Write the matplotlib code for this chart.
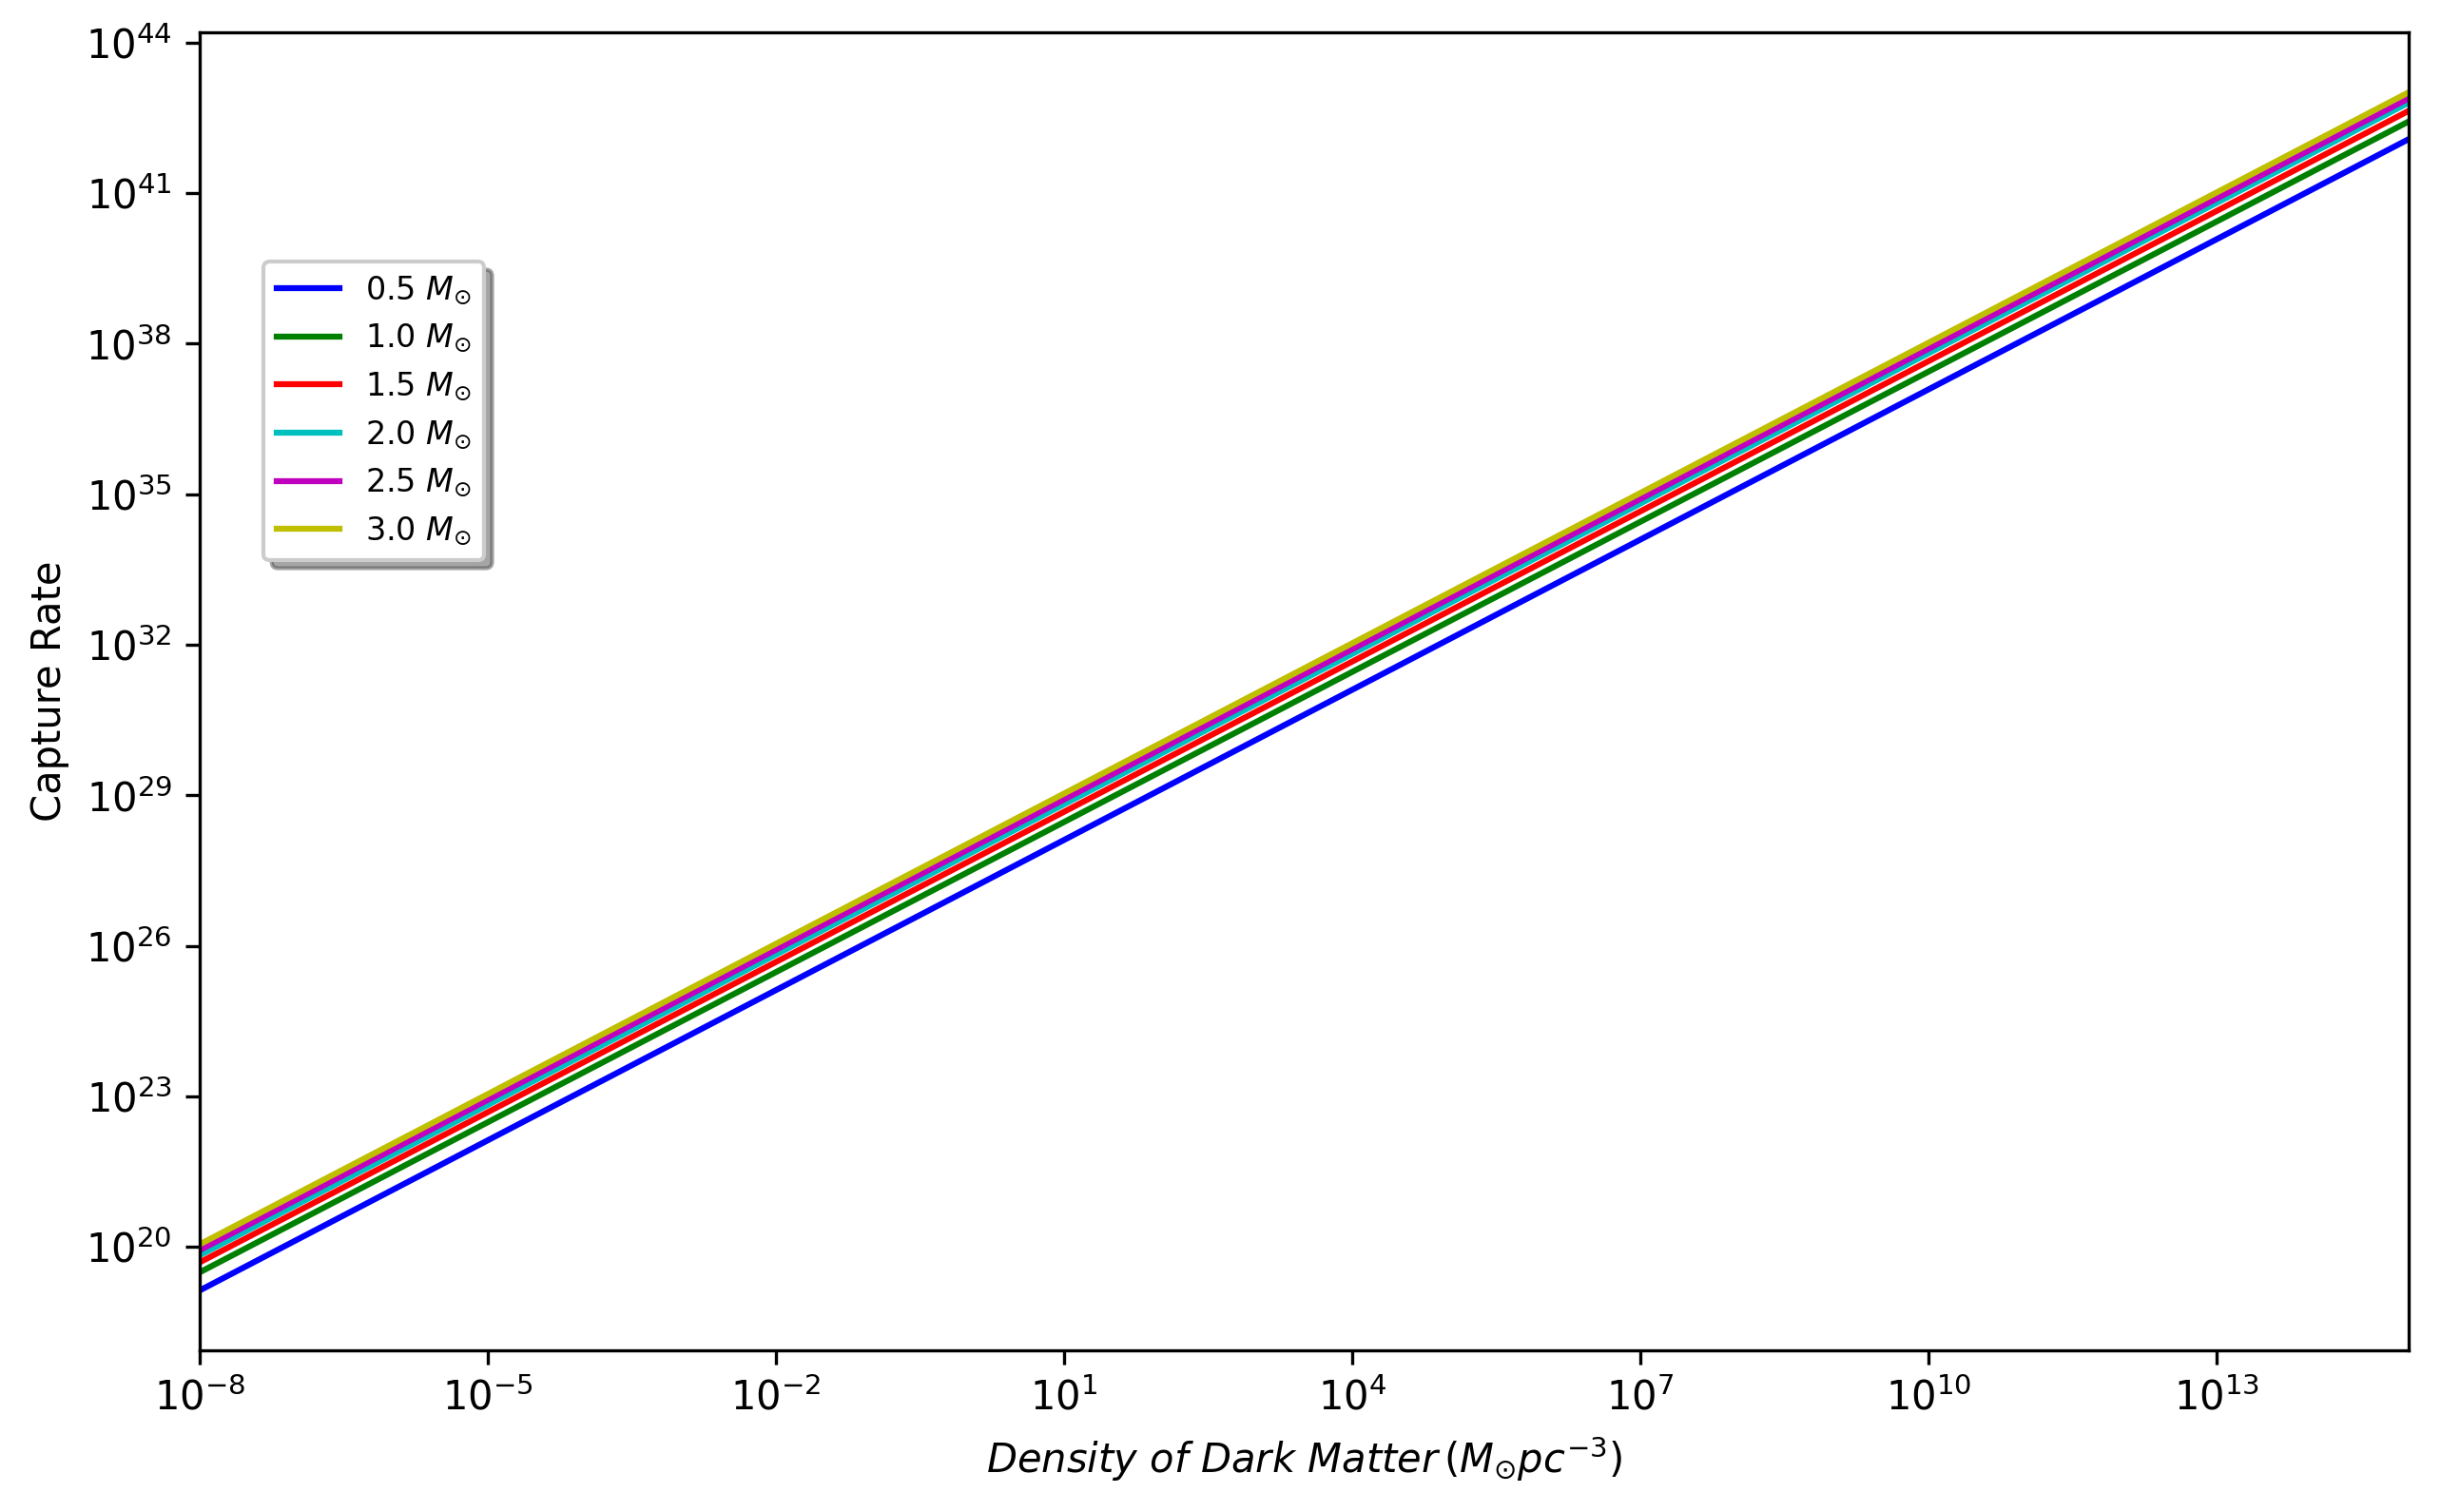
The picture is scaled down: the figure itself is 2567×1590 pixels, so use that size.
import numpy as np
import matplotlib
matplotlib.use('Agg')
import matplotlib.pyplot as plt

# densidad de materia oscura (extremos del rango graficado)
densidad = [1e-8, 1e15]

# masas de las estrellas y su tasa de captura en los extremos
etiquetas = ['0.5 $M_{\\odot}$', '1.0 $M_{\\odot}$', '1.5 $M_{\\odot}$',
             '2.0 $M_{\\odot}$', '2.5 $M_{\\odot}$', '3.0 $M_{\\odot}$']
colores = ['b', 'g', 'r', 'c', 'm', 'y']
captura_05 = [1.35e19, 1.2e42]
captura_10 = [3.1e19, 2.7e42]
captura_15 = [4.9e19, 4.4e42]
captura_20 = [6.8e19, 6.4e42]
captura_25 = [8.6e19, 7.8e42]
captura_30 = [1.12e20, 1.03e43]
capturas = [captura_05, captura_10, captura_15, captura_20, captura_25, captura_30]

fig = plt.figure(figsize=(2567/300, 1590/300), dpi=300)
fig.subplots_adjust(left=0.0818, right=0.9868, top=0.9786, bottom=0.1069)
ax = fig.add_subplot(111)

for y, c, lab in zip(capturas, colores, etiquetas):
    ax.plot(densidad, y, color=c, label=lab)

ax.set_xscale('log')
ax.set_yscale('log')
ax.set_xlim(densidad[0], densidad[1])
ax.xaxis.set_minor_locator(matplotlib.ticker.NullLocator())
ax.yaxis.set_minor_locator(matplotlib.ticker.NullLocator())

ax.set_xlabel(r'$Density\ of\ Dark\ Matter\,(M_{\odot}pc^{-3})$')
ax.set_ylabel('Capture Rate')
ax.legend(loc='upper left', bbox_to_anchor=(0.029, 0.826), borderaxespad=0,
          shadow=True, fontsize=8)

plt.savefig('out.png', dpi=300)
